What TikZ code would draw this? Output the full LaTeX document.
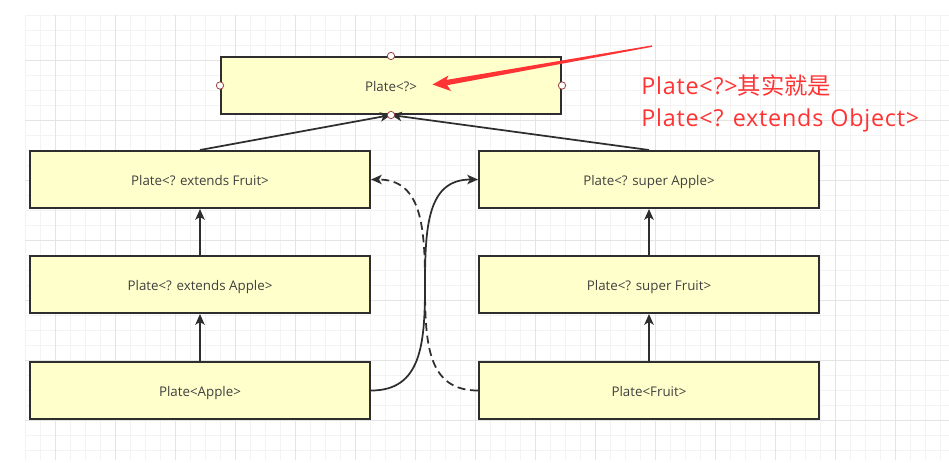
\documentclass[tikz,border=0pt]{standalone}
\usepackage{fontspec}
\setmainfont{Open Sans}
\newfontfamily\cjkfont{Noto Sans CJK SC}
\newfontfamily\notefont[LetterSpace=3.4]{Open Sans}
\usetikzlibrary{arrows.meta}
\definecolor{boxfill}{HTML}{FFFFCC}
\definecolor{boxline}{HTML}{2E2E2E}
\definecolor{txt}{HTML}{404040}
\definecolor{gridminor}{HTML}{F3F3F3}
\definecolor{gridmajor}{HTML}{E4E4E4}
\definecolor{note}{HTML}{FF3333}
\definecolor{handle}{HTML}{9A3F3F}
\begin{document}
\begin{tikzpicture}[x=0.75pt,y=-0.75pt,
  platebox/.style={draw=boxline,fill=boxfill,line width=1.5pt,minimum width=255pt,minimum height=42.75pt,inner sep=0pt,text=txt,font=\fontsize{10}{12}\selectfont,text height=10pt,text depth=1pt},
  link/.style={draw=boxline,line width=1.3pt,-{Stealth[length=8pt,width=7pt,inset=2pt]}},
  dlink/.style={link,dash pattern=on 6pt off 3.5pt},
  hdl/.style={draw=handle,fill=white,line width=0.6pt,circle,minimum size=5.5pt,inner sep=0pt},
  notetext/.style={anchor=base west,inner sep=0pt,text=note,font=\notefont\fontsize{17.5}{20}\selectfont}
]
\useasboundingbox (0,0) rectangle (949,462);
\fill[white] (0,0) rectangle (949,462);
% grid
\foreach \x in {25,40,...,940} \draw[gridminor,line width=0.75pt] (\x,15) -- (\x,460);
\foreach \y in {15,30,...,450} \draw[gridminor,line width=0.75pt] (25,\y) -- (949,\y);
\foreach \x in {55,115,...,895} \draw[gridmajor,line width=0.75pt] (\x,15) -- (\x,460);
\foreach \y in {60,120,...,420} \draw[gridmajor,line width=0.75pt] (25,\y) -- (949,\y);

% boxes
\node[platebox] (any) at (391,85.5) {Plate<?>};
\node[platebox] (extF) at (200,179.5) {Plate<? extends Fruit>};
\node[platebox] (extA) at (200,284.5) {Plate<? extends Apple>};
\node[platebox] (pA) at (200,390.5) {Plate<Apple>};
\node[platebox] (supA) at (649,179.5) {Plate<? super Apple>};
\node[platebox] (supF) at (649,284.5) {Plate<? super Fruit>};
\node[platebox] (pF) at (649,390.5) {Plate<Fruit>};

% connectors
\draw[link] (extF.north) -- (any.south);
\draw[link] (supA.north) -- (any.south);
\draw[link] (extA.north) -- (extF.south);
\draw[link] (pA.north) -- (extA.south);
\draw[link] (supF.north) -- (supA.south);
\draw[link] (pF.north) -- (supF.south);
\coordinate (midS) at (425,285);
\draw[link] (pA.east) .. controls +(50,0) and +(0,60) .. (midS) .. controls +(0,-60) and +(-50,0) .. (supA.west);
\draw[dlink] (pF.west) .. controls +(-50,0) and +(0,60) .. (midS) .. controls +(0,-60) and +(50,0) .. (extF.east);

% handles on top box
\node[hdl] (h1) at (any.north) {};
\node[hdl] (h2) at (any.west) {};
\node[hdl] (h3) at (any.east) {};
\node[hdl] (h4) at (any.south) {};

% red annotation arrow (tapering body, notched head)
\fill[note] (432.5,84.5) -- (448.5,75.5) -- (446.4,79.9) -- (651.8,45.4) -- (652.2,46.8) -- (447.2,85.2) -- (451,91) -- cycle;

% red note
\node[notetext] (n1) at (641,94.3) {Plate<?>{\cjkfont 其实就是}};
\node[notetext] (n2) at (641,126.7) {Plate<? extends Object>};
\end{tikzpicture}
\end{document}
